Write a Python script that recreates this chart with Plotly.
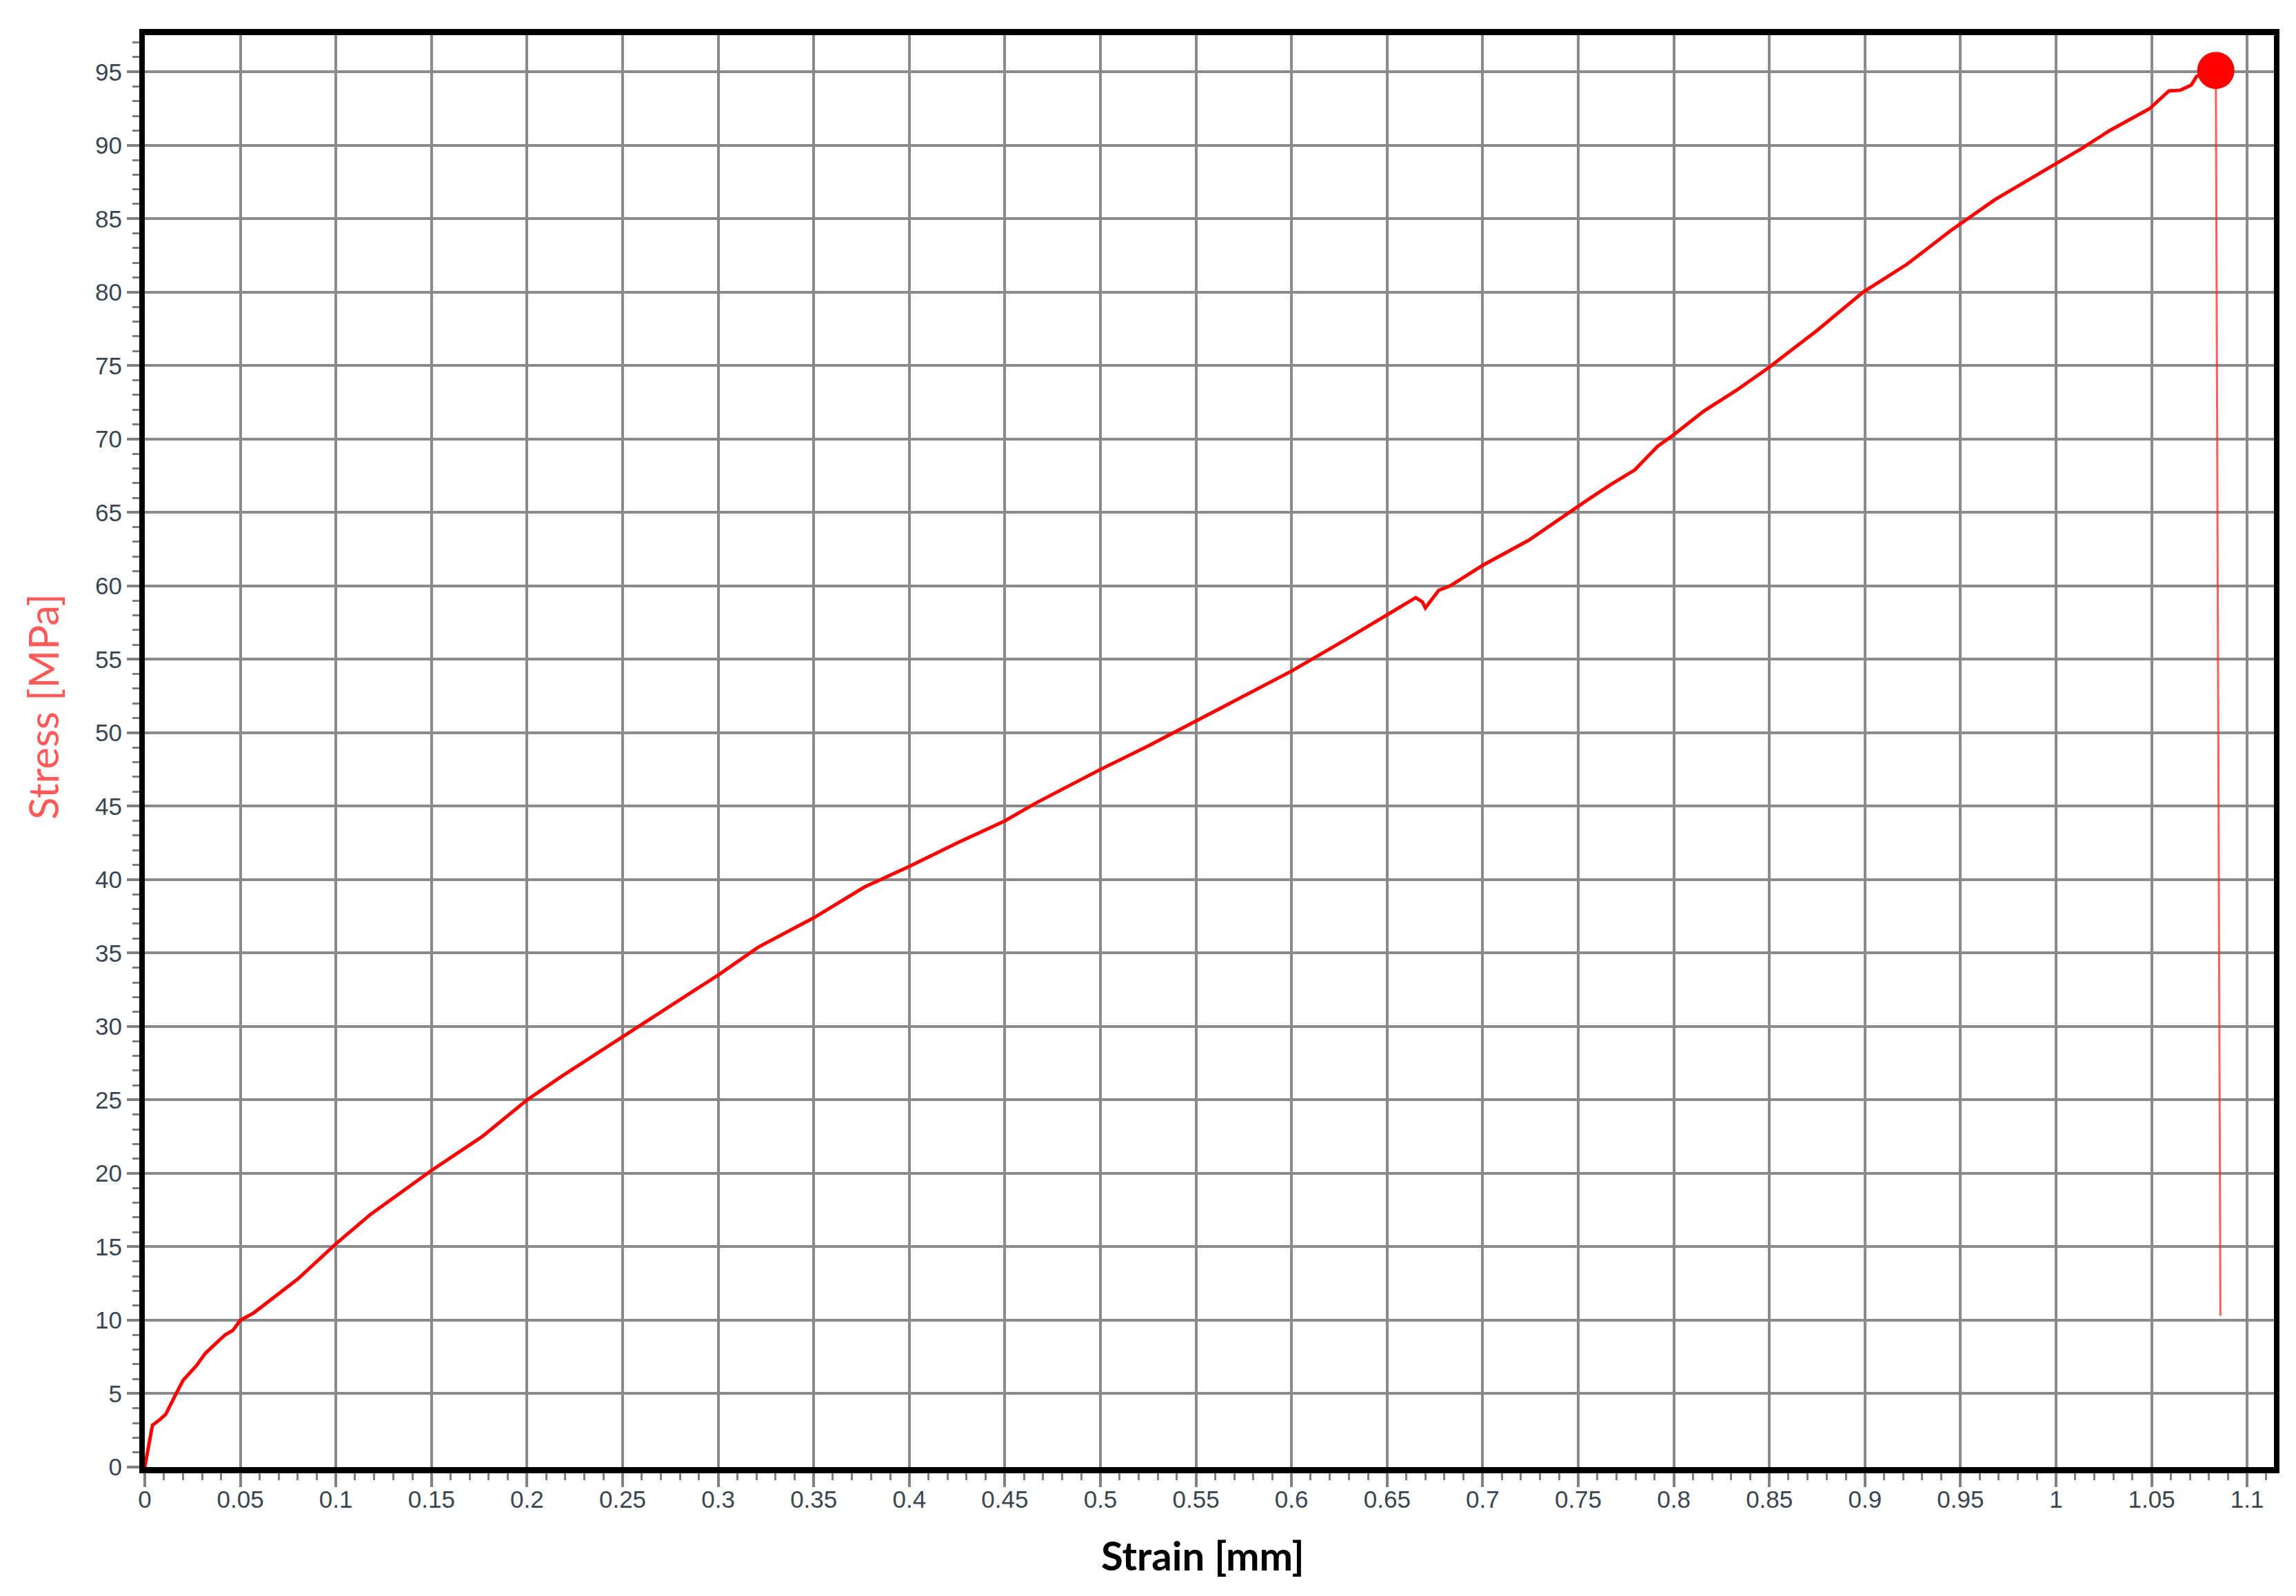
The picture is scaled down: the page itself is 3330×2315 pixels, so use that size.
import plotly.graph_objects as go


# Stress-strain curve
strain = [
    0.0, 0.002, 0.004, 0.0076, 0.011, 0.016, 0.02, 0.027, 0.0317, 0.037,
    0.042, 0.046, 0.05, 0.057, 0.066, 0.08, 0.1, 0.118, 0.15, 0.1765,
    0.2, 0.218, 0.25, 0.28, 0.3, 0.321, 0.35, 0.3766, 0.4, 0.425,
    0.45, 0.466, 0.5, 0.525, 0.55, 0.575, 0.6, 0.629, 0.65, 0.665,
    0.6685, 0.67, 0.677, 0.683, 0.7, 0.713, 0.724, 0.7554, 0.767, 0.7796,
    0.7915, 0.8, 0.8157, 0.8337, 0.85, 0.875, 0.899, 0.922, 0.945, 0.968,
    0.985, 1.0, 1.0136, 1.028, 1.042, 1.049, 1.059, 1.065, 1.0707, 1.0736,
    1.0836,
]
stress = [
    0.0, 1.4, 2.85, 3.2, 3.6, 4.9, 5.9, 6.9, 7.75, 8.4,
    9.0, 9.3, 10.0, 10.5, 11.4, 12.8, 15.2, 17.2, 20.2, 22.5,
    25.0, 26.6, 29.3, 31.8, 33.5, 35.4, 37.4, 39.5, 40.9, 42.5,
    44.0, 45.2, 47.5, 49.1, 50.8, 52.5, 54.2, 56.4, 58.0, 59.2,
    58.9, 58.5, 59.7, 60.0, 61.4, 62.3, 63.1, 65.9, 66.9, 67.9,
    69.5, 70.3, 71.9, 73.4, 74.9, 77.4, 80.0, 81.9, 84.2, 86.3,
    87.6, 88.7, 89.8, 91.0, 92.0, 92.5, 93.7, 93.75, 94.1, 94.7,
    95.1,
]

# Break point and the drop of the signal after failure
break_strain = [1.0836]
break_stress = [95.1]
drop_strain = [1.0836, 1.086]
drop_stress = [95.1, 10.3]

# Axis ticks
x_ticks = [round(i * 0.05, 2) for i in range(23)]
y_ticks = list(range(0, 100, 5))

GRID = "#8a8a8a"
TICK_FONT = dict(family="Liberation Sans, Arial, sans-serif", size=35, color="#3a4552")


def build_figure() -> go.Figure:
    """
    Build the stress-strain chart with a thick black frame and gray grid.
    """
    fig = go.Figure()

    # Measured curve
    fig.add_trace(go.Scatter(
        x=strain, y=stress, mode="lines",
        line=dict(color="#ff0000", width=5),
        showlegend=False, hoverinfo="skip",
    ))

    # Signal dropping after the specimen broke
    fig.add_trace(go.Scatter(
        x=drop_strain, y=drop_stress, mode="lines",
        line=dict(color="rgba(255,40,40,0.75)", width=3),
        showlegend=False, hoverinfo="skip",
    ))

    # Break point marker
    fig.add_trace(go.Scatter(
        x=break_strain, y=break_stress, mode="markers",
        marker=dict(color="#ff0000", size=54),
        showlegend=False, hoverinfo="skip",
    ))

    fig.update_xaxes(
        range=[0, 1.114], tickvals=x_ticks,
        showgrid=True, gridcolor=GRID, gridwidth=4,
        showline=True, linecolor="black", linewidth=9, mirror=True,
        ticks="outside", ticklen=20, tickwidth=4, tickcolor="#808080",
        minor=dict(dtick=0.01, tick0=0, ticks="outside", ticklen=10,
                   tickwidth=3, tickcolor="#808080", showgrid=False),
        tickfont=TICK_FONT, zeroline=False, ticklabelstandoff=-12,
    )
    fig.update_yaxes(
        range=[0, 97.5], tickvals=y_ticks,
        showgrid=True, gridcolor=GRID, gridwidth=4,
        showline=True, linecolor="black", linewidth=8, mirror=True,
        ticks="outside", ticklen=18, tickwidth=4, tickcolor="#808080",
        minor=dict(dtick=1, tick0=0, ticks="outside", ticklen=10,
                   tickwidth=3, tickcolor="#808080", showgrid=False),
        tickfont=TICK_FONT, zeroline=False,
    )

    # Axis titles placed as annotations to sit where the original has them
    fig.add_annotation(
        text="<b>Strain [mm]</b>", xref="paper", yref="paper",
        x=0.497, y=0, yshift=-127, showarrow=False,
        xanchor="center", yanchor="middle",
        font=dict(family="Lato, sans-serif", size=58, color="black"),
    )
    fig.add_annotation(
        text="Stress [MPa]", xref="paper", yref="paper",
        x=0, xshift=-148, y=0.531, textangle=-90, showarrow=False,
        xanchor="center", yanchor="middle",
        font=dict(family="Lato, sans-serif", size=60, color="#ff5a5a"),
    )

    fig.update_layout(
        width=3330, height=2315,
        margin=dict(l=202, r=40, t=43, b=195),
        paper_bgcolor="white", plot_bgcolor="white",
    )
    return fig


if __name__ == "__main__":
    fig = build_figure()
    fig.write_html("out.html")
